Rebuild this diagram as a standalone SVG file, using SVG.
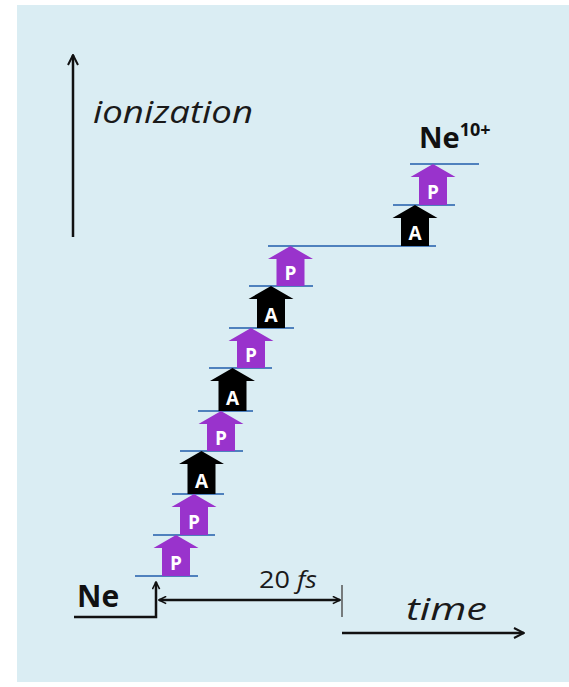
<svg xmlns="http://www.w3.org/2000/svg" width="569" height="687" viewBox="0 0 569 687">
<defs>
<style>
.lvl{stroke:#4f81bd;stroke-width:2;fill:none}
.ax{stroke:#111;stroke-width:2.5;fill:none}
.p{fill:#9933cc}
.a{fill:#000}
.lab{font-family:"Open Sans","Liberation Sans",sans-serif;font-weight:bold;font-size:19px;fill:#fff;text-anchor:middle}
.it{font-family:"Open Sans","Liberation Sans",sans-serif;font-style:italic;fill:#1a1a1a}
.ne{font-family:"Open Sans","Liberation Sans",sans-serif;font-weight:bold;fill:#111}
</style>
<marker id="chev" viewBox="0 0 12 12" refX="11" refY="6" markerWidth="12" markerHeight="12" markerUnits="userSpaceOnUse" orient="auto-start-reverse">
<path d="M1,1 L11,6 L1,11" fill="none" stroke="#111" stroke-width="2"/>
</marker>
<marker id="chevS" viewBox="0 0 10 10" refX="9" refY="5" markerWidth="9" markerHeight="9" markerUnits="userSpaceOnUse" orient="auto-start-reverse">
<path d="M1,1 L9,5 L1,9" fill="none" stroke="#111" stroke-width="1.8"/>
</marker>
</defs>
<rect x="17" y="5" width="552" height="677" fill="#daedf3"/>
<g id="connectors">
<line class="ax" x1="73" y1="237" x2="73" y2="55" marker-end="url(#chev)"/>
<line class="ax" x1="342" y1="633" x2="524" y2="633" marker-end="url(#chev)"/>
<polyline class="ax" points="74,617 156,617 156,582" stroke-width="2" marker-end="url(#chevS)"/>
<line class="ax" x1="159" y1="600" x2="340" y2="600" stroke-width="2" marker-start="url(#chevS)" marker-end="url(#chevS)"/>
<line x1="342" y1="585" x2="342" y2="617" stroke="#555" stroke-width="1.5"/>
</g>
<g id="levels">
<line class="lvl" x1="135" y1="576" x2="198" y2="576"/>
<line class="lvl" x1="153" y1="535" x2="215" y2="535"/>
<line class="lvl" x1="172" y1="494" x2="224" y2="494"/>
<line class="lvl" x1="180" y1="451" x2="243" y2="451"/>
<line class="lvl" x1="198" y1="411" x2="253" y2="411"/>
<line class="lvl" x1="209" y1="368" x2="272" y2="368"/>
<line class="lvl" x1="229" y1="328" x2="294" y2="328"/>
<line class="lvl" x1="249" y1="286" x2="313" y2="286"/>
<line class="lvl" x1="268" y1="246" x2="436" y2="246"/>
<line class="lvl" x1="393" y1="205" x2="455" y2="205"/>
<line class="lvl" x1="410" y1="164" x2="479" y2="164"/>
</g>
<g id="P1"><path class="p" d="M162,576 V548 H153.5 L176,535 L198.5,548 H190 V576 Z"/><text class="lab" x="176" y="570">P</text></g>
<g id="P2"><path class="p" d="M180,535 V507 H171.5 L194,494 L216.5,507 H208 V535 Z"/><text class="lab" x="194" y="529">P</text></g>
<g id="A1"><path class="a" d="M187.5,494 V464 H179 L201.5,451 L224,464 H215.5 V494 Z"/><text class="lab" x="201.5" y="488">A</text></g>
<g id="P3"><path class="p" d="M207,451 V424 H198.5 L221,411 L243.5,424 H235 V451 Z"/><text class="lab" x="221" y="445">P</text></g>
<g id="A2"><path class="a" d="M218.5,411 V381 H210 L232.5,368 L255,381 H246.5 V411 Z"/><text class="lab" x="232.5" y="405">A</text></g>
<g id="P4"><path class="p" d="M237,368 V341 H228.5 L251,328 L273.5,341 H265 V368 Z"/><text class="lab" x="251" y="362">P</text></g>
<g id="A3"><path class="a" d="M257,328 V299 H248.5 L271,286 L293.5,299 H285 V328 Z"/><text class="lab" x="271" y="322">A</text></g>
<g id="P5"><path class="p" d="M276.5,286 V259 H268 L290.5,246 L313,259 H304.5 V286 Z"/><text class="lab" x="290.5" y="280">P</text></g>
<g id="A4"><path class="a" d="M401,246 V218 H392.5 L415,205 L437.5,218 H429 V246 Z"/><text class="lab" x="415" y="240">A</text></g>
<g id="P6"><path class="p" d="M419,205 V177 H410.5 L433,164 L455.5,177 H447 V205 Z"/><text class="lab" x="433" y="199">P</text></g>
<g id="labels">
<text class="it" x="93" y="123" font-size="31" textLength="160" lengthAdjust="spacingAndGlyphs">ionization</text>
<text class="ne" x="419" y="148" font-size="29">Ne<tspan font-size="18" dy="-12">10+</tspan></text>
<text class="ne" x="77" y="607" font-size="30">Ne</text>
<text x="259" y="588" font-family="'Open Sans','Liberation Sans',sans-serif" font-size="23" fill="#1a1a1a" textLength="58" lengthAdjust="spacingAndGlyphs">20 <tspan font-style="italic">fs</tspan></text>
<text class="it" x="406" y="620" font-size="31" textLength="81" lengthAdjust="spacingAndGlyphs">time</text>
</g>
</svg>
